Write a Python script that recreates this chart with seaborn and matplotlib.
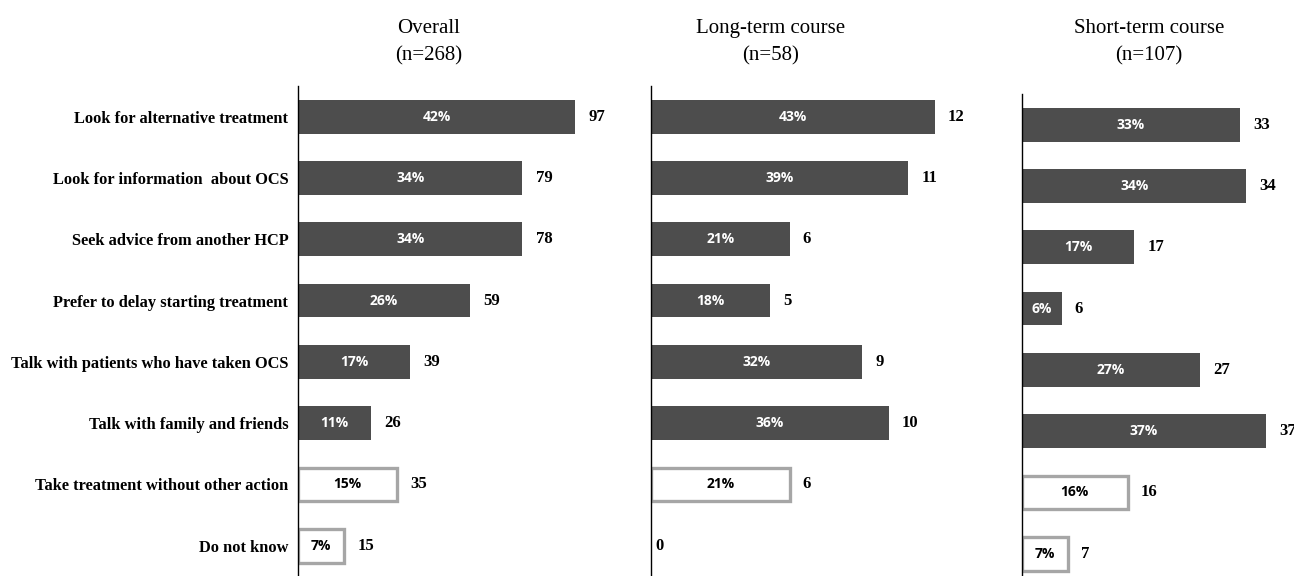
import pandas as pd
import matplotlib.pyplot as plt
import seaborn as sns

# actions asked about (top to bottom)
actions = ["Look for alternative treatment", "Look for information  about OCS",
           "Seek advice from another HCP", "Prefer to delay starting treatment",
           "Talk with patients who have taken OCS", "Talk with family and friends",
           "Take treatment without other action", "Do not know"]
# last two rows are drawn as outlined bars
outlined = [False, False, False, False, False, False, True, True]

overall_pct = [42, 34, 34, 26, 17, 11, 15, 7]
overall_n = [97, 79, 78, 59, 39, 26, 35, 15]
long_pct = [43, 39, 21, 18, 32, 36, 21, 0]
long_n = [12, 11, 6, 5, 9, 10, 6, 0]
short_pct = [33, 34, 17, 6, 27, 37, 16, 7]
short_n = [33, 34, 17, 6, 27, 37, 16, 7]

titles = ["Overall\n(n=268)", "Long-term course\n(n=58)", "Short-term course\n(n=107)"]

sns.set_style("white")
plt.rcParams["text.color"] = "black"
W, H = 1294, 576
fig = plt.figure(figsize=(W / 100, H / 100), dpi=100)

DARK = "#4d4d4d"
GREY = "#a6a6a6"
px_per_unit = 6.6  # bar length pixels per percent

# (left px, width px, top px of axes, title centre x px)
panels = [
    (298, 345, 86, 429),
    (651, 360, 86, 771),
    (1022, 272, 94, 1149),
]
datasets = [(overall_pct, overall_n), (long_pct, long_n), (short_pct, short_n)]
row_h = 61.3

for i, ((left, width, top, tx), (pct, cnt), title) in enumerate(zip(panels, datasets, titles)):
    height = 8 * row_h
    ax = fig.add_axes([left / W, 1 - (top + height) / H, width / W, height / H])
    df = pd.DataFrame({"action": actions, "pct": pct, "n": cnt, "outlined": outlined})
    sns.barplot(data=df, x="pct", y="action", hue="action",
                palette=["white" if o else DARK for o in outlined],
                legend=False, width=0.55, ax=ax, saturation=1)
    ax.set_xlim(0, width / px_per_unit)
    ax.set_ylim(7.5, -0.5)

    patches = sorted(ax.patches, key=lambda p: p.get_y())
    for p, row in zip(patches, df.itertuples()):
        if row.outlined and row.pct > 0:
            p.set_edgecolor(GREY)
            p.set_linewidth(2.4)
        else:
            p.set_linewidth(0)
        yc = p.get_y() + p.get_height() / 2
        if row.pct > 0:
            ax.text(row.pct / 2, yc, f"{row.pct}%", ha="center", va="center",
                    color="black" if row.outlined else "white",
                    fontsize=10, fontweight="bold", family="Open Sans")
        off = 9.5 if row.pct > 0 else 3.5
        ax.annotate(str(row.n), (row.pct, yc), xytext=(off, 0), textcoords="offset points",
                    ha="left", va="center", fontsize=12, fontweight="bold",
                    family="Liberation Serif", color="black")

    for s in ["top", "right", "bottom"]:
        ax.spines[s].set_visible(False)
    ax.spines["left"].set_color("black")
    ax.spines["left"].set_linewidth(1)
    ax.set_xticks([])
    ax.set_xlabel("")
    ax.set_ylabel("")
    ax.tick_params(axis="y", length=0, pad=7)
    if i == 0:
        ax.set_yticks(range(len(actions)))
        ax.set_yticklabels(actions, fontsize=11.8, fontweight="bold",
                           family="Liberation Serif", color="black")
    else:
        ax.set_yticks([])

    fig.text(tx / W, 1 - 42 / H, title, ha="center", va="center", fontsize=15,
             family="Liberation Serif", linespacing=1.55, color="black")

fig.savefig("out.png", dpi=100, facecolor="white")
